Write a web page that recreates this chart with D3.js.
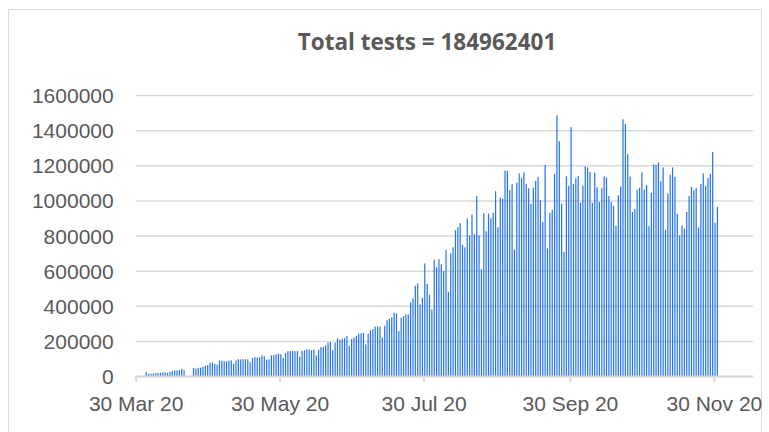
<!DOCTYPE html>
<html>
<head>
<meta charset="utf-8">
<script src="https://cdn.jsdelivr.net/npm/d3@7"></script>
<style>
  html, body { margin: 0; padding: 0; background: #fff; }
  svg { display: block; font-family: 'Open Sans', sans-serif; }
  .axis text { fill: #595959; font-size: 21px; }
  .axis--y .domain { display: none; }
  .axis--y .tick line { stroke: #d9d9d9; stroke-width: 1.5; }
  .axis--x .domain, .axis--x .tick line { stroke: #d9d9d9; stroke-width: 2; }
  .bar { fill: #2272f5; }
</style>
</head>
<body>
<svg id="chart" width="769" height="432"></svg>
<script>
/* global d3, document */

const title = 'Total tests = 184962401';

// first day with a bar; one value per day after it (null = no report that day)
const firstDay = '2020-04-03';
const dailyTests = [
  22600, 13000, 13000, 15000, 17000, 17000, 19000, 21000, 21000, 19000,
  23000, 28000, 32000, 32000, 34000, 40000, 34000, null, null, null,
  45000, 42000, 47000, 47000, 53000, 58000, 62000, 75000, 77000, 70000,
  64000, 89000, 87000, 85000, 83000, 87000, 89000, 70000, 89000, 96000,
  95000, 95000, 95000, 95000, 78000, 103000, 107000, 105000, 107000, 118000,
  112000, 93000, 95000, 118000, 120000, 124000, 128000, 124000, 103000, 130000,
  141000, 141000, 143000, 141000, 143000, 110000, 143000, 147000, 152000, 150000,
  147000, 150000, 118000, 150000, 164000, 166000, 175000, 190000, 194000, 147000,
  189000, 215000, 207000, 212000, 216000, 229000, 171000, 210000, 218000, 229000,
  241000, 243000, 246000, 180000, 241000, 260000, 267000, 282000, 282000, 281000,
  218000, 286000, 318000, 326000, 334000, 360000, 356000, 256000, 332000, 341000,
  351000, 351000, 419000, 442000, 514000, 527000, 408000, 446000, 641000, 523000,
  463000, 379000, 662000, 619000, 665000, 636000, 598000, 720000, 479000, 699000,
  733000, 830000, 847000, 870000, 746000, 733000, 898000, 801000, 919000, 807000,
  1024000, 801000, 608000, 927000, 824000, 925000, 898000, 929000, 1052000, 847000,
  1016000, 1010000, 1170000, 1168000, 1058000, 1092000, 720000, 1100000, 1153000, 1128000,
  1160000, 1092000, 1069000, 980000, 1073000, 1111000, 1134000, 1001000, 877000, 1202000,
  727000, 929000, 946000, 1151000, 1485000, 1337000, 982000, 706000, 1137000, 1082000,
  1417000, 1094000, 1126000, 1139000, 986000, 1084000, 1194000, 1188000, 1162000, 986000,
  1158000, 1075000, 991000, 1069000, 1137000, 1130000, 1025000, 991000, 968000, 855000,
  1029000, 1079000, 1462000, 1436000, 1263000, 1136000, 934000, 951000, 1060000, 1071000,
  1160000, 1062000, 1086000, 853000, 1043000, 1204000, 1202000, 1215000, 1109000, 1188000,
  832000, 1039000, 1147000, 1188000, 1134000, 923000, 800000, 857000, 839000, 934000,
  1024000, 1077000, 1058000, 1071000, 845000, 1094000, 1153000, 1084000, 1126000, 1151000,
  1276000, 872000, 963000,
];

const xTickDates = ['2020-03-30', '2020-05-30', '2020-07-30', '2020-09-30', '2020-11-30'];
const yTicks = [0, 200000, 400000, 600000, 800000, 1000000, 1200000, 1400000, 1600000];

document.addEventListener('DOMContentLoaded', () => {
  const parseDay = d3.timeParse('%Y-%m-%d');
  const start = parseDay(firstDay);

  const data = dailyTests
    .map((tests, i) => ({ date: d3.timeDay.offset(start, i), tests }))
    .filter(d => d.tests !== null);

  const svg = d3.select('#chart');

  // chart area border
  svg.append('rect')
    .attr('x', 8.5)
    .attr('y', 9.5)
    .attr('width', 753)
    .attr('height', 440)
    .attr('fill', 'none')
    .attr('stroke', '#d9d9d9');

  const left = 135.7;
  const right = 753;
  const top = 95;
  const bottom = 376;

  const x = d3.scaleTime()
    .domain([parseDay('2020-03-30'), new Date(2020, 11, 16, 14)])
    .range([left, right]);
  const y = d3.scaleLinear()
    .domain([0, 1600000])
    .range([bottom, top]);

  svg.append('text')
    .attr('x', 427)
    .attr('y', 50)
    .attr('text-anchor', 'middle')
    .attr('fill', '#595959')
    .attr('font-weight', 700)
    .attr('font-size', '22.5px')
    .text(title);

  // y gridlines + labels
  svg.append('g')
    .attr('class', 'axis axis--y')
    .attr('transform', `translate(${left},0)`)
    .call(d3.axisLeft(y)
      .tickValues(yTicks)
      .tickFormat(d3.format('d'))
      .tickSize(-(right - left))
      .tickPadding(22))
    .call(g => g.selectAll('.tick text').attr('dy', '0.36em'));

  // one thin column per day, centred in its day slot
  const slot = x(d3.timeDay.offset(start, 1)) - x(start);
  const barWidth = 1.2;
  svg.append('g')
    .selectAll('rect')
    .data(data)
    .enter().append('rect')
      .attr('class', 'bar')
      .attr('x', d => x(d.date) + slot / 2 - barWidth / 2)
      .attr('y', d => y(d.tests))
      .attr('width', barWidth)
      .attr('height', d => y(0) - y(d.tests));

  svg.append('g')
    .attr('class', 'axis axis--x')
    .attr('transform', `translate(0,${bottom})`)
    .call(d3.axisBottom(x)
      .tickValues(xTickDates.map(parseDay))
      .tickFormat(d3.timeFormat('%d %b %y'))
      .tickSize(6)
      .tickSizeOuter(0)
      .tickPadding(14));
});
</script>
</body>
</html>
